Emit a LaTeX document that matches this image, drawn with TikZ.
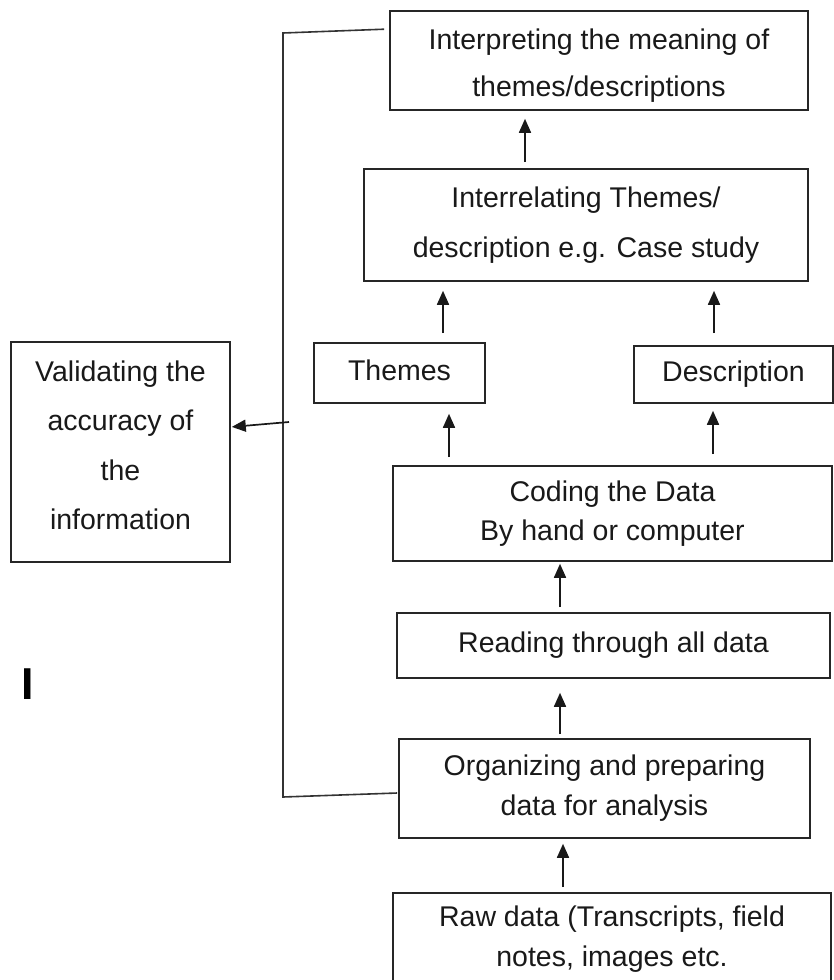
\documentclass[tikz,border=0pt]{standalone}
\usepackage{fontspec}
\setmainfont{Liberation Sans}
\usetikzlibrary{arrows.meta}
\begin{document}
\begin{tikzpicture}[x=1pt,y=-1pt,
  box/.style={draw=black!85, line width=1.6pt, inner sep=0pt, align=center, text=black!90},
  fs/.style={font=\fontsize{28.5}{#1}\selectfont},
  arr/.style={draw=black!90, line width=1.7pt, -{Triangle[length=14pt,width=12pt]}},
  link/.style={draw=black!80, line width=1.6pt}
]
\useasboundingbox (0,0) rectangle (834,980);

% process boxes
\node[box, fs=47, minimum width=418pt, minimum height=99pt] (interp) at (599,60.5)
  {\rule{0pt}{31pt}Interpreting the meaning of\\themes/descriptions};
\node[box, fs=50, minimum width=444pt, minimum height=112pt] (interrel) at (586,225)
  {Interrelating Themes/\\description e.g. Case study};
\node[box, fs=40, minimum width=171pt, minimum height=60pt] (themes) at (399.5,373)
  {Themes\rule[-6pt]{0pt}{6pt}};
\node[box, fs=40, minimum width=199pt, minimum height=57pt] (descr) at (733.5,374.5) {Description};
\node[box, fs=39, minimum width=439pt, minimum height=95pt] (coding) at (612.5,513.5)
  {Coding the Data\\By hand or computer};
\node[box, fs=40, minimum width=433pt, minimum height=65pt] (reading) at (613.5,645.5)
  {Reading through all data};
\node[box, fs=40, minimum width=411pt, minimum height=99pt] (organ) at (604.5,788.5)
  {Organizing and preparing\\data for analysis};
\node[box, fs=40, minimum width=438pt, minimum height=92pt] (raw) at (612,939)
  {Raw data (Transcripts, field\\notes, images etc.};
\node[box, fs=49.5, minimum width=219pt, minimum height=220pt] (valid) at (120.5,452)
  {Validating the\\accuracy of\\the\\information\rule[-14pt]{0pt}{14pt}};

% stray letter at the left margin
\node[inner sep=0pt, font=\fontsize{44.7}{50}\selectfont\bfseries, text=black] (mark) at (27.5,684) {I};

% upward flow
\draw[arr, shorten <=6pt, shorten >=8pt] ([xshift=-61pt]interrel.north) -- ([xshift=-61pt]interrel.north |- interp.south);
\draw[arr, shorten <=9pt, shorten >=9pt] ([xshift=43.5pt]themes.north) -- ([xshift=43.5pt]themes.north |- interrel.south);
\draw[arr, shorten <=12pt, shorten >=9pt] ([xshift=-19.5pt]descr.north) -- ([xshift=-19.5pt]descr.north |- interrel.south);
\draw[arr, shorten <=8pt, shorten >=10pt] ([xshift=-163.5pt]coding.north) -- ([xshift=-163.5pt]coding.north |- themes.south);
\draw[arr, shorten <=11pt, shorten >=7pt] ([xshift=100.5pt]coding.north) -- ([xshift=100.5pt]coding.north |- descr.south);
\draw[arr, shorten <=5pt, shorten >=2pt] ([xshift=-53.5pt]reading.north) -- ([xshift=-53.5pt]reading.north |- coding.south);
\draw[arr, shorten <=4pt, shorten >=14pt] ([xshift=-44.5pt]organ.north) -- ([xshift=-44.5pt]organ.north |- reading.south);
\draw[arr, shorten <=5pt, shorten >=5pt] ([xshift=-49pt]raw.north) -- ([xshift=-49pt]raw.north |- organ.south);

% feedback bracket to the validation step
\coordinate (bt) at (283,33);
\coordinate (bb) at (283,797);
\coordinate (vs) at (289,422);
\draw[link] ([xshift=-5pt, yshift=-19pt]interp.north west) -- (bt) -- (bb) -- ([xshift=-1pt, yshift=-4.5pt]organ.west);
\draw[arr, shorten >=1pt] (vs) -- ([yshift=25pt]valid.east);
\end{tikzpicture}
\end{document}
